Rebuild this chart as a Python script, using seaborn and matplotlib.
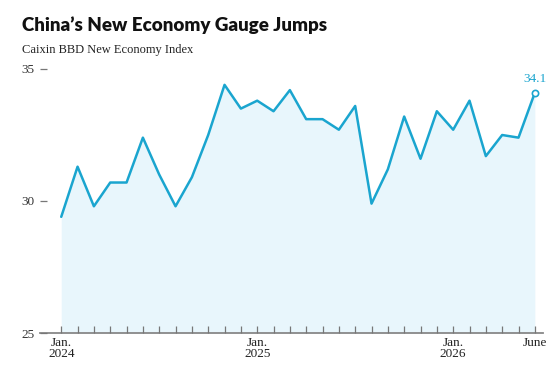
import pandas as pd
import matplotlib
matplotlib.use("Agg")
import matplotlib.pyplot as plt
from matplotlib.ticker import FixedLocator
import seaborn as sns

# Caixin BBD New Economy Index, monthly Jan 2024 - June 2026
months = pd.date_range("2024-01-01", "2026-06-01", freq="MS")
values = [29.4, 31.3, 29.8, 30.7, 30.7, 32.4, 31.0, 29.8, 30.9, 32.5,
          34.4, 33.5, 33.8, 33.4, 34.2, 33.1, 33.1, 32.7, 33.6, 29.9,
          31.2, 33.2, 31.6, 33.4, 32.7, 33.8, 31.7, 32.5, 32.4, 34.1]
tick_pos = [0, 12, 24, 29]
tick_labels = ["Jan.\n2024", "Jan.\n2025", "Jan.\n2026", "June"]
y_ticks = [25, 30, 35]

df = pd.DataFrame({"idx": range(len(values)), "value": values, "month": months})

line_color = "#1aa5cf"
fill_color = "#e8f6fc"

sns.set_style("white")
plt.rcParams["font.family"] = ["Liberation Serif", "DejaVu Serif"]

fig = plt.figure(figsize=(5.6, 3.73), dpi=100)
ax = fig.add_axes([40 / 560, 1 - 333 / 373, (543 - 40) / 560, (333 - 69) / 373])
ax.set_axisbelow(False)  # keep the inward month ticks on top of the fill

ax.fill_between(df["idx"], df["value"], 25, color=fill_color, lw=0)
sns.lineplot(data=df, x="idx", y="value", ax=ax, color=line_color, lw=1.8, zorder=3)
ax.plot(df["idx"].iloc[-1], values[-1], "o", ms=4.5, mfc="white",
        mec=line_color, mew=1.2, clip_on=False, zorder=5)
ax.text(df["idx"].iloc[-1], values[-1] + 0.3, f"{values[-1]:.1f}",
        color=line_color, ha="center", va="bottom", fontsize=9.5)

ax.set_xlim(-1.3, 29.5)
ax.set_ylim(25, 35)
ax.set_xticks(tick_pos)
ax.set_xticklabels(tick_labels, fontsize=9.5, linespacing=0.9, color="#222222")
ax.xaxis.set_minor_locator(FixedLocator([i for i in range(len(values)) if i not in tick_pos]))
ax.set_yticks(y_ticks)
ax.set_yticklabels([str(v) for v in y_ticks], fontsize=9.5, color="#333333")
ax.tick_params(axis="x", which="major", direction="in", length=5, width=0.9,
               color="#777777", pad=3, bottom=True)
ax.tick_params(axis="x", which="minor", direction="in", length=5, width=0.9,
               color="#777777", bottom=True)
ax.tick_params(axis="y", direction="in", length=5, width=0.9, color="#777777",
               pad=4, left=True)
ax.set_xlabel("")
ax.set_ylabel("")

for s in ["top", "right", "left"]:
    ax.spines[s].set_visible(False)
ax.spines["bottom"].set_color("#888888")
ax.spines["bottom"].set_linewidth(1.3)

fig.text(22 / 560, 1 - 25 / 373, "China\u2019s New Economy Gauge Jumps",
         fontsize=13.5, fontweight="heavy", family="Lato", va="center",
         color="#111111")
fig.text(22 / 560, 1 - 50 / 373, "Caixin BBD New Economy Index",
         fontsize=9, va="center", color="#222222")

fig.savefig("out.png", dpi=100)
